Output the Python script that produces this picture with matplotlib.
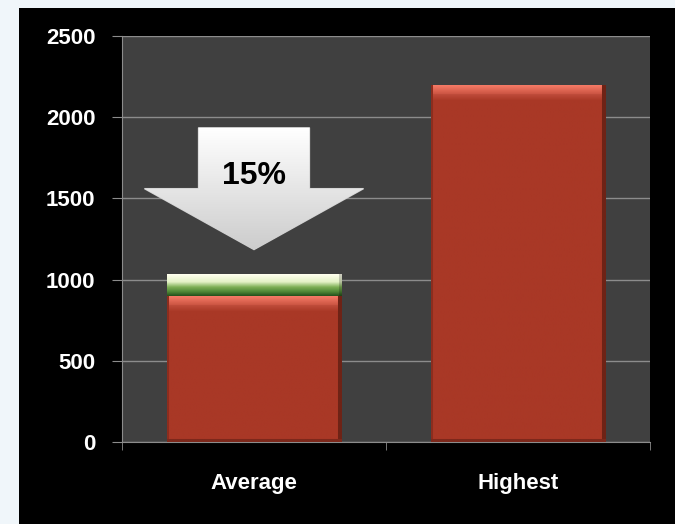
import matplotlib.pyplot as plt
import numpy as np
from matplotlib.patches import Polygon, Rectangle

# chart values
categories = ["Average", "Highest"]
base_vals = [900, 2200]
saving_vals = [135, 0]
saving_label = "15%"
y_ticks = [0, 500, 1000, 1500, 2000, 2500]

FONT = ["Liberation Sans", "DejaVu Sans"]
W, H = 675, 524


def red_texture(h, w):
    h = max(int(h), 4)
    w = max(int(w), 4)
    img = np.zeros((h, w, 3))
    img[:] = (169, 56, 38)
    # top bevel highlight
    for r in range(min(h, 16)):
        if r < 1:
            c = (190, 70, 50)
        elif r < 10:
            t = (r - 1) / 9
            c = (245 - 45 * t, 122 - 40 * t, 102 - 38 * t)
        else:
            t = (r - 10) / 6
            c = (190 - 21 * t, 75 - 19 * t, 58 - 20 * t)
        img[r, :] = c
    # sides and bottom darker
    img[:, :2] = (140, 45, 30)
    img[:, -4:] = (110, 35, 22)
    img[-3:, :] = (125, 40, 27)
    return img / 255


def green_texture(h, w):
    h = max(int(h), 4)
    w = max(int(w), 4)
    stops = [(0.0, (255, 255, 238)), (0.35, (228, 242, 198)), (0.6, (125, 175, 85)),
             (0.82, (80, 135, 55)), (1.0, (40, 85, 30))]
    pos = [s[0] for s in stops]
    img = np.zeros((h, w, 3))
    for k in range(3):
        col = np.interp(np.linspace(0, 1, h), pos, [s[1][k] for s in stops])
        img[:, :, k] = col[:, None]
    img[:, -3:] *= 0.8
    return img / 255


fig = plt.figure(figsize=(W / 100, H / 100), dpi=100, facecolor="#f0f6fa")
fig.patches.append(Rectangle((19 / W, 0), 1 - 19 / W, 1 - 8 / H, transform=fig.transFigure,
                             facecolor="black", edgecolor="none", zorder=-10))

ax = fig.add_axes([122 / W, 1 - 442 / H, (650 - 122) / W, (442 - 36) / H], facecolor="#404040")
ax.set_xlim(-0.5, len(categories) - 0.5)
ax.set_ylim(0, 2500)

x = np.arange(len(categories))
bw = 0.66
px_per_x = (650 - 122) / len(categories)
px_per_y = (442 - 36) / 2500

bars = ax.bar(x, base_vals, width=bw, color="#A93826", zorder=2)
tops = ax.bar(x, saving_vals, width=bw, bottom=base_vals, color="#6a9e48", zorder=2)

for p in bars:
    x0, y0 = p.get_x(), p.get_y()
    pw, ph = p.get_width(), p.get_height()
    im = ax.imshow(red_texture(ph * px_per_y, pw * px_per_x), extent=[x0, x0 + pw, y0, y0 + ph],
                   aspect="auto", zorder=3, interpolation="bilinear")
    im.set_clip_path(p)
for p in tops:
    if p.get_height() <= 0:
        continue
    x0, y0 = p.get_x(), p.get_y()
    pw, ph = p.get_width(), p.get_height()
    im = ax.imshow(green_texture(ph * px_per_y, pw * px_per_x), extent=[x0, x0 + pw, y0, y0 + ph],
                   aspect="auto", zorder=3, interpolation="bilinear")
    im.set_clip_path(p)

# down arrow above the average bar
cx = x[0]
tip = base_vals[0] + saving_vals[0] + 150
wing = tip + 375
top = tip + 750
arrow_pts = [(cx - 0.21, top), (cx + 0.21, top), (cx + 0.21, wing), (cx + 0.415, wing),
             (cx, tip), (cx - 0.415, wing), (cx - 0.21, wing)]
arrow = Polygon(arrow_pts, closed=True, facecolor="#f4f4f4", edgecolor="#cfcfcf", lw=1, zorder=4)
ax.add_patch(arrow)
grad = np.linspace(1.0, 0.8, 100)[:, None] * np.ones((1, 10))
grad_img = np.dstack([grad, grad, grad])
aim = ax.imshow(grad_img, extent=[cx - 0.415, cx + 0.415, tip, top], aspect="auto", zorder=5,
                interpolation="bilinear")
aim.set_clip_path(arrow)
ax.text(cx, wing + 80, saving_label, ha="center", va="center", fontsize=23,
        fontweight="bold", family=FONT, color="black", zorder=6)

ax.set_xlim(-0.5, len(categories) - 0.5)
ax.set_ylim(0, 2500)

# axes styling
ax.set_axisbelow(True)
ax.yaxis.grid(True, color="#8c8c8c", lw=1)
for s in ["top", "right"]:
    ax.spines[s].set_visible(False)
for s in ["left", "bottom"]:
    ax.spines[s].set_color("#8c8c8c")

ax.set_yticks(y_ticks)
ax.set_xticks(x, categories)
ax.set_xticks(np.arange(len(categories) + 1) - 0.5, minor=True)
ax.tick_params(axis="y", direction="out", length=7, color="#8c8c8c", pad=12, labelcolor="white")
ax.tick_params(axis="x", which="major", length=0, pad=22, labelcolor="white")
ax.tick_params(axis="x", which="minor", direction="out", length=6, color="#8c8c8c")
for lab in ax.get_yticklabels():
    lab.set_family(FONT)
    lab.set_fontsize(16)
    lab.set_fontweight("bold")
for lab in ax.get_xticklabels():
    lab.set_family(FONT)
    lab.set_fontsize(16)
    lab.set_fontweight("bold")

fig.savefig("out.png", dpi=100, facecolor=fig.get_facecolor())
